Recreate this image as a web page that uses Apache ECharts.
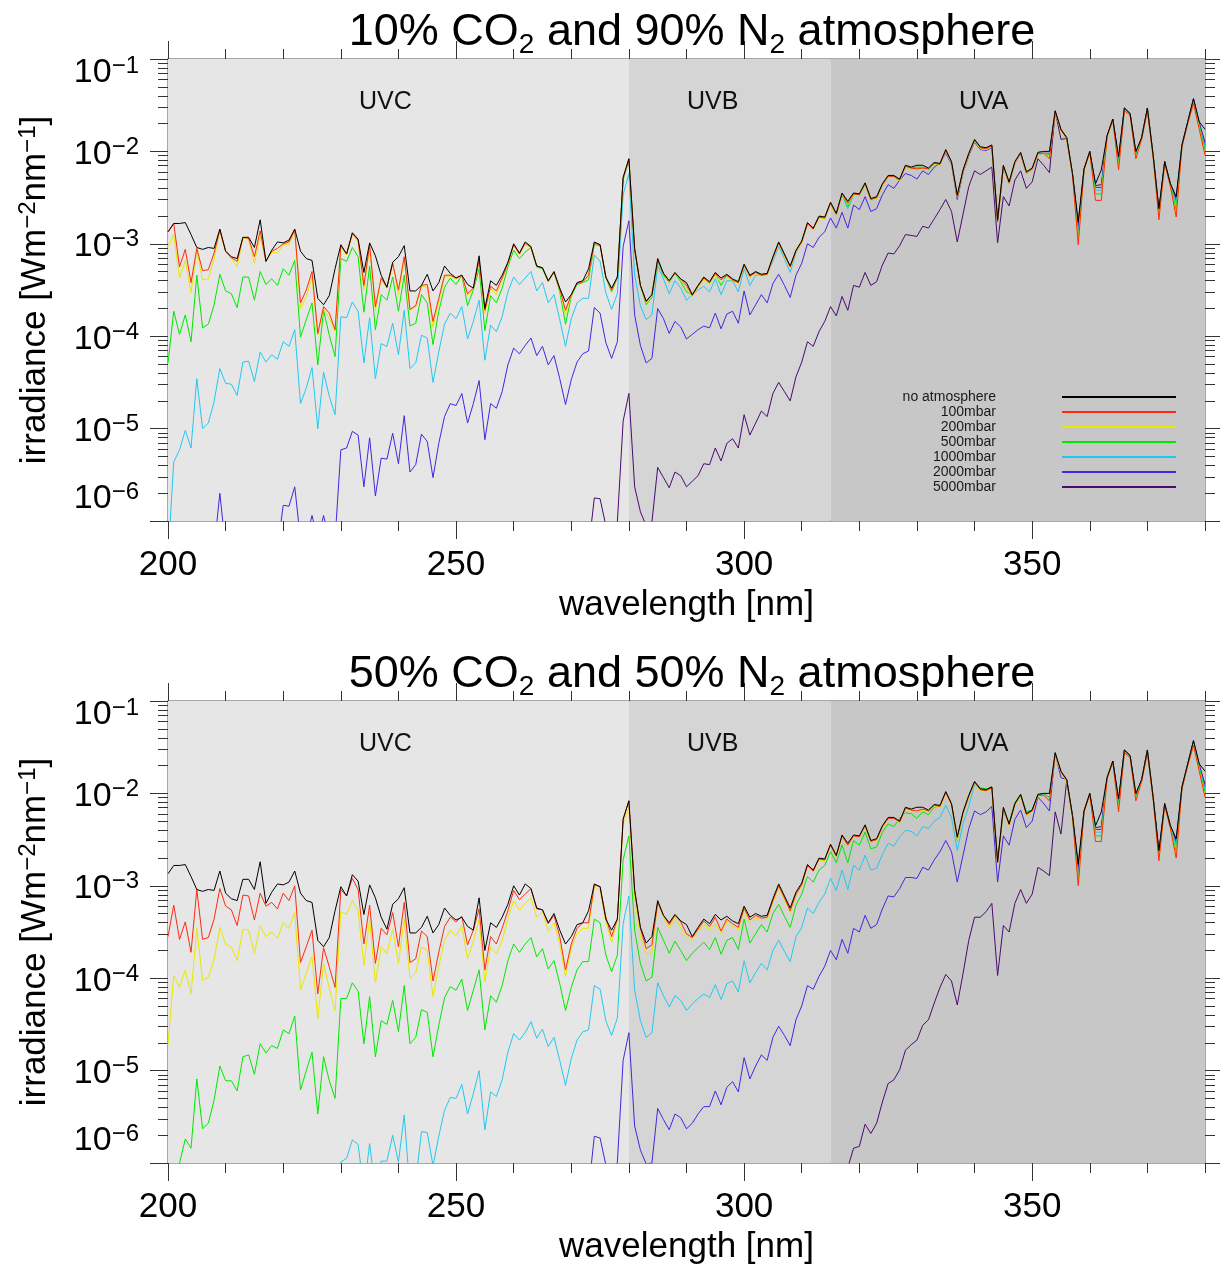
<!DOCTYPE html>
<html><head><meta charset="utf-8">
<script src="https://cdn.jsdelivr.net/npm/echarts@6/dist/echarts.min.js"></script>
<style>html,body{margin:0;padding:0;background:#fff}#c{width:1220px;height:1267px}</style>
</head><body><div id="c"></div>
<script>
const _ = null;
// wavelength grid, 1 nm steps from 200 to 380 nm
const WAVELENGTHS = Array.from({length: 181}, (d, i) => 200 + i);
const SERIES_NAMES = ['no atmosphere','100mbar','200mbar','500mbar','1000mbar','2000mbar','5000mbar'];
const PANEL_TITLES = [['10% CO','2',' and 90% N','2',' atmosphere'], ['50% CO','2',' and 50% N','2',' atmosphere']];
const BANDS = [{name:'UVC', from:200, to:280}, {name:'UVB', from:280, to:315}, {name:'UVA', from:315, to:380}];
const X_MAJOR = [200, 250, 300, 350];
const X_MINOR = [210,220,230,240,260,270,280,290,310,320,330,340,360,370,380];
const Y_DECADES = [-6, -5, -4, -3, -2, -1];  // log10 irradiance tick exponents

// log10 irradiance [W m-2 nm-1]; no-atmosphere (same in both panels)
const TOA = [
-2.87,-2.78,-2.78,-2.77,-2.90,-3.04,-3.06,-3.04,-3.05,-2.84,
-3.08,-3.14,-3.16,-2.93,-2.93,-3.04,-2.74,-3.19,-3.07,-2.98,
-2.99,-2.96,-2.84,-3.08,-3.16,-3.18,-3.59,-3.66,-3.56,-3.27,
-3.01,-3.11,-2.88,-2.95,-3.31,-2.99,-3.13,-3.34,-3.47,-3.20,
-3.14,-3.02,-3.51,-3.51,-3.45,-3.33,-3.51,-3.42,-3.24,-3.32,
-3.37,-3.34,-3.44,-3.48,-3.13,-3.70,-3.40,-3.45,-3.34,-3.20,
-3.00,-3.10,-2.98,-3.03,-3.24,-3.26,-3.40,-3.30,-3.48,-3.63,
-3.55,-3.42,-3.40,-3.27,-2.98,-3.01,-3.36,-3.48,-3.36,-2.28,
-2.08,-3.05,-3.45,-3.62,-3.55,-3.16,-3.32,-3.40,-3.31,-3.38,
-3.42,-3.55,-3.45,-3.36,-3.41,-3.31,-3.37,-3.33,-3.38,-3.41,
-3.22,-3.34,-3.30,-3.33,-3.32,-3.14,-2.98,-3.11,-3.24,-3.07,
-2.97,-2.77,-2.83,-2.70,-2.71,-2.55,-2.67,-2.45,-2.54,-2.45,
-2.46,-2.34,-2.51,-2.49,-2.35,-2.26,-2.26,-2.30,-2.15,-2.17,
-2.15,-2.15,-2.18,-2.12,-2.13,-1.98,-2.11,-2.47,-2.20,-2.02,
-1.87,-1.95,-1.96,-1.93,-2.74,-2.15,-2.33,-2.11,-2.01,-2.22,
-2.18,-2.01,-2.00,-2.00,-1.56,-1.76,-1.85,-2.24,-2.76,-2.19,
-2.00,-2.35,-2.20,-1.83,-1.65,-2.06,-1.53,-1.59,-2.00,-1.85,
-1.53,-2.04,-2.62,-2.11,-2.35,-2.49,-1.93,-1.68,-1.43,-1.68,-1.76];

// ---- panel 1: 10% CO2 / 90% N2 ----
const P1_100 = [
-2.87,-2.78,-3.25,-3.06,-3.42,-3.05,-3.29,-3.28,-3.10,-2.85,
-3.08,-3.15,-3.19,-2.93,-2.94,-3.14,-2.86,-3.19,-3.08,-3.05,
-3.00,-2.98,-2.85,-3.64,-3.50,-3.30,-3.97,-3.68,-3.75,-3.93,
-3.02,-3.11,-2.89,-2.96,-3.45,-3.01,-3.68,-3.37,-3.47,-3.21,
-3.50,-3.14,-3.71,-3.67,-3.45,-3.44,-3.84,-3.59,-3.34,-3.34,
-3.37,-3.34,-3.54,-3.48,-3.18,-3.72,-3.46,-3.51,-3.37,-3.21,
-3.01,-3.11,-2.99,-3.04,-3.24,-3.26,-3.40,-3.31,-3.49,-3.72,
-3.55,-3.43,-3.41,-3.34,-2.99,-3.01,-3.36,-3.50,-3.36,-2.29,
-2.08,-3.06,-3.45,-3.63,-3.55,-3.18,-3.32,-3.40,-3.32,-3.38,
-3.45,-3.56,-3.46,-3.37,-3.42,-3.32,-3.39,-3.34,-3.39,-3.42,
-3.23,-3.35,-3.31,-3.34,-3.33,-3.15,-2.99,-3.12,-3.25,-3.08,
-2.98,-2.78,-2.84,-2.71,-2.72,-2.56,-2.68,-2.46,-2.56,-2.46,
-2.47,-2.35,-2.52,-2.50,-2.36,-2.27,-2.27,-2.31,-2.16,-2.18,
-2.19,-2.18,-2.19,-2.13,-2.14,-1.99,-2.12,-2.49,-2.21,-2.03,
-1.88,-1.96,-1.97,-1.94,-2.75,-2.16,-2.34,-2.12,-2.02,-2.23,
-2.19,-2.02,-2.02,-2.08,-1.57,-1.77,-1.86,-2.25,-3.01,-2.20,
-2.01,-2.53,-2.53,-1.84,-1.66,-2.20,-1.56,-1.61,-2.08,-1.87,
-1.56,-2.06,-2.74,-2.13,-2.38,-2.71,-1.95,-1.70,-1.48,-1.76,-2.04];
const P1_200 = [
-3.03,-2.90,-3.37,-3.18,-3.53,-3.07,-3.39,-3.38,-3.16,-2.86,
-3.09,-3.16,-3.25,-2.94,-2.95,-3.21,-2.92,-3.19,-3.09,-3.10,
-3.01,-3.01,-2.86,-3.70,-3.57,-3.36,-3.99,-3.70,-3.81,-3.95,
-3.04,-3.12,-2.90,-2.98,-3.50,-3.03,-3.72,-3.38,-3.48,-3.22,
-3.55,-3.16,-3.72,-3.68,-3.46,-3.47,-3.90,-3.63,-3.36,-3.35,
-3.38,-3.35,-3.56,-3.49,-3.19,-3.75,-3.48,-3.55,-3.39,-3.22,
-3.02,-3.12,-3.01,-3.04,-3.24,-3.26,-3.40,-3.31,-3.50,-3.77,
-3.56,-3.43,-3.41,-3.35,-2.99,-3.01,-3.36,-3.50,-3.36,-2.29,
-2.08,-3.06,-3.45,-3.64,-3.56,-3.18,-3.32,-3.41,-3.32,-3.39,
-3.49,-3.57,-3.47,-3.39,-3.43,-3.34,-3.42,-3.36,-3.40,-3.43,
-3.24,-3.36,-3.32,-3.35,-3.34,-3.16,-3.00,-3.13,-3.26,-3.09,
-2.99,-2.79,-2.85,-2.72,-2.73,-2.57,-2.69,-2.47,-2.57,-2.47,
-2.48,-2.36,-2.53,-2.51,-2.37,-2.28,-2.28,-2.32,-2.17,-2.19,
-2.19,-2.18,-2.20,-2.14,-2.15,-2.00,-2.13,-2.49,-2.22,-2.04,
-1.89,-1.97,-1.98,-1.95,-2.75,-2.17,-2.35,-2.13,-2.03,-2.24,
-2.20,-2.03,-2.02,-2.06,-1.58,-1.78,-1.87,-2.26,-2.98,-2.21,
-2.02,-2.50,-2.50,-1.85,-1.67,-2.17,-1.55,-1.61,-2.07,-1.87,
-1.55,-2.06,-2.73,-2.13,-2.38,-2.70,-1.95,-1.70,-1.47,-1.75,-2.04];
const P1_500 = [
-4.29,-3.73,-3.98,-3.77,-4.06,-3.34,-3.91,-3.87,-3.66,-3.33,
-3.51,-3.54,-3.69,-3.36,-3.36,-3.61,-3.30,-3.44,-3.38,-3.45,
-3.27,-3.34,-3.18,-4.01,-3.82,-3.64,-4.31,-3.72,-3.99,-4.22,
-3.16,-3.19,-3.04,-3.14,-3.74,-3.24,-3.93,-3.55,-3.61,-3.36,
-3.73,-3.34,-3.89,-3.86,-3.55,-3.64,-4.09,-3.73,-3.47,-3.37,
-3.44,-3.34,-3.67,-3.50,-3.27,-3.94,-3.56,-3.64,-3.48,-3.25,
-3.07,-3.16,-3.09,-3.04,-3.25,-3.27,-3.41,-3.31,-3.52,-3.87,
-3.57,-3.44,-3.42,-3.39,-3.01,-3.02,-3.37,-3.52,-3.37,-2.31,
-2.09,-3.07,-3.45,-3.66,-3.58,-3.19,-3.34,-3.42,-3.32,-3.41,
-3.52,-3.55,-3.46,-3.37,-3.43,-3.32,-3.45,-3.34,-3.40,-3.42,
-3.23,-3.36,-3.31,-3.34,-3.33,-3.15,-2.99,-3.12,-3.25,-3.08,
-2.98,-2.78,-2.84,-2.71,-2.72,-2.56,-2.68,-2.46,-2.60,-2.46,
-2.47,-2.35,-2.52,-2.50,-2.36,-2.27,-2.27,-2.31,-2.16,-2.18,
-2.17,-2.17,-2.19,-2.13,-2.14,-1.99,-2.12,-2.49,-2.21,-2.03,
-1.88,-1.96,-1.97,-1.94,-2.75,-2.16,-2.34,-2.12,-2.02,-2.23,
-2.19,-2.02,-2.02,-2.04,-1.57,-1.77,-1.86,-2.25,-2.96,-2.20,
-2.01,-2.46,-2.46,-1.84,-1.66,-2.14,-1.55,-1.60,-2.05,-1.86,
-1.55,-2.05,-2.69,-2.12,-2.37,-2.63,-1.94,-1.69,-1.46,-1.73,-1.98];
const P1_1000 = [
-6.40,-5.36,-5.23,-5.02,-5.21,-4.46,-5.00,-4.94,-4.71,-4.35,
-4.51,-4.52,-4.64,-4.28,-4.27,-4.49,-4.17,-4.28,-4.20,-4.25,
-4.06,-4.11,-3.93,-4.73,-4.56,-4.34,-5.00,-4.39,-4.65,-4.85,
-3.79,-3.80,-3.63,-3.73,-4.29,-3.80,-4.46,-4.08,-4.11,-3.86,
-4.20,-3.72,-4.35,-4.29,-3.99,-4.02,-4.50,-4.17,-3.87,-3.75,
-3.81,-3.68,-4.03,-3.84,-3.61,-4.26,-3.88,-3.95,-3.79,-3.52,
-3.36,-3.44,-3.37,-3.30,-3.51,-3.42,-3.64,-3.55,-3.82,-4.11,
-3.81,-3.64,-3.59,-3.59,-3.12,-3.19,-3.53,-3.71,-3.54,-2.47,
-2.24,-3.34,-3.67,-3.82,-3.77,-3.24,-3.38,-3.54,-3.40,-3.48,
-3.61,-3.55,-3.50,-3.46,-3.52,-3.38,-3.55,-3.40,-3.40,-3.52,
-3.27,-3.45,-3.34,-3.34,-3.33,-3.19,-3.03,-3.16,-3.31,-3.10,
-2.98,-2.79,-2.84,-2.71,-2.73,-2.57,-2.69,-2.47,-2.62,-2.47,
-2.48,-2.36,-2.53,-2.51,-2.37,-2.28,-2.28,-2.32,-2.17,-2.19,
-2.18,-2.18,-2.20,-2.14,-2.15,-2.00,-2.13,-2.50,-2.22,-2.04,
-1.89,-1.97,-1.98,-1.95,-2.75,-2.17,-2.35,-2.13,-2.03,-2.24,
-2.20,-2.03,-2.02,-2.03,-1.57,-1.77,-1.86,-2.25,-2.93,-2.20,
-2.01,-2.42,-2.42,-1.84,-1.66,-2.12,-1.54,-1.60,-2.04,-1.86,
-1.54,-2.05,-2.67,-2.12,-2.36,-2.56,-1.94,-1.69,-1.45,-1.72,-1.95];
const P1_2000 = [
_,_,_,_,_,_,_,_,-6.30,-5.70,
-6.30,_,_,_,_,_,_,_,_,-6.30,
-5.83,-5.84,-5.63,-6.20,-6.20,-5.94,-6.20,-5.94,-6.20,-6.20,
-5.23,-5.21,-5.03,-5.07,-5.63,-5.10,-5.73,-5.32,-5.33,-5.05,
-5.38,-4.86,-5.47,-5.39,-5.06,-5.14,-5.53,-5.16,-4.87,-4.73,
-4.75,-4.62,-4.94,-4.73,-4.48,-5.12,-4.73,-4.78,-4.60,-4.31,
-4.13,-4.19,-4.10,-4.02,-4.21,-4.11,-4.31,-4.21,-4.46,-4.74,
-4.47,-4.28,-4.19,-4.16,-3.69,-3.75,-4.07,-4.24,-4.06,-3.03,
-2.75,-3.77,-4.10,-4.29,-4.24,-3.70,-3.81,-3.97,-3.84,-3.90,
-4.03,-3.98,-3.93,-3.89,-3.91,-3.75,-3.92,-3.76,-3.73,-3.86,
-3.51,-3.77,-3.66,-3.55,-3.64,-3.43,-3.33,-3.45,-3.58,-3.34,
-3.21,-3.00,-3.04,-2.93,-2.87,-2.72,-2.83,-2.66,-2.83,-2.58,
-2.63,-2.49,-2.65,-2.62,-2.47,-2.36,-2.40,-2.31,-2.24,-2.26,
-2.30,-2.21,-2.25,-2.17,-2.13,-2.02,-2.14,-2.52,-2.23,-2.05,
-1.90,-1.98,-1.99,-1.96,-2.76,-2.17,-2.35,-2.13,-2.03,-2.24,
-2.20,-2.03,-2.02,-2.02,-1.57,-1.77,-1.86,-2.25,-2.87,-2.20,
-2.01,-2.39,-2.39,-1.84,-1.66,-2.10,-1.54,-1.60,-2.03,-1.86,
-1.54,-2.05,-2.65,-2.12,-2.36,-2.54,-1.94,-1.69,-1.44,-1.71,-1.93];
const P1_5000 = [
_,_,_,_,_,_,_,_,_,_,
_,_,_,_,_,_,_,_,_,_,
_,_,_,_,_,_,_,_,_,_,
_,_,_,_,_,_,_,_,_,_,
_,_,_,_,_,_,_,_,_,_,
_,_,_,_,_,_,_,_,_,_,
_,_,_,_,_,_,_,_,_,_,
_,_,_,-6.30,-5.75,-5.76,-6.05,-6.30,-6.01,-4.92,
-4.62,-5.63,-5.90,-6.05,-6.01,-5.42,-5.53,-5.64,-5.47,-5.51,
-5.63,-5.57,-5.51,-5.38,-5.39,-5.21,-5.35,-5.16,-5.11,-5.21,
-4.85,-5.07,-4.94,-4.81,-4.87,-4.62,-4.50,-4.60,-4.70,-4.44,
-4.28,-4.06,-4.11,-3.95,-3.84,-3.68,-3.78,-3.57,-3.72,-3.45,
-3.47,-3.31,-3.45,-3.41,-3.23,-3.10,-3.11,-3.02,-2.90,-2.91,
-2.92,-2.81,-2.83,-2.73,-2.63,-2.52,-2.65,-2.98,-2.68,-2.38,
-2.21,-2.25,-2.21,-2.17,-2.99,-2.49,-2.59,-2.31,-2.21,-2.40,
-2.33,-2.08,-2.15,-2.23,-1.57,-1.87,-1.86,-2.24,-2.80,-2.19,
-2.00,-2.37,-2.36,-1.83,-1.65,-2.08,-1.53,-1.59,-2.02,-1.85,
-1.53,-2.04,-2.63,-2.11,-2.35,-2.51,-1.93,-1.68,-1.43,-1.69,-1.90];

// ---- panel 2: 50% CO2 / 50% N2 ----
const P2_100 = [
-3.55,-3.21,-3.58,-3.39,-3.72,-3.04,-3.58,-3.56,-3.36,-3.03,
-3.22,-3.26,-3.43,-3.10,-3.11,-3.37,-3.08,-3.22,-3.18,-3.25,
-3.08,-3.16,-3.00,-3.83,-3.66,-3.48,-4.17,-3.67,-3.88,-4.10,
-3.04,-3.11,-2.92,-3.04,-3.63,-3.21,-3.84,-3.46,-3.53,-3.29,
-3.66,-3.18,-3.83,-3.79,-3.49,-3.55,-4.03,-3.72,-3.44,-3.34,
-3.39,-3.33,-3.64,-3.48,-3.25,-3.91,-3.55,-3.63,-3.46,-3.27,
-3.05,-3.15,-3.09,-3.03,-3.25,-3.26,-3.41,-3.32,-3.55,-3.91,
-3.63,-3.46,-3.40,-3.40,-2.99,-3.01,-3.34,-3.55,-3.36,-2.28,
-2.08,-3.05,-3.46,-3.68,-3.64,-3.18,-3.32,-3.42,-3.32,-3.39,
-3.52,-3.56,-3.47,-3.38,-3.44,-3.34,-3.49,-3.36,-3.41,-3.45,
-3.24,-3.37,-3.32,-3.35,-3.34,-3.16,-3.00,-3.13,-3.27,-3.09,
-2.99,-2.78,-2.84,-2.71,-2.72,-2.56,-2.68,-2.46,-2.56,-2.46,
-2.47,-2.35,-2.52,-2.50,-2.36,-2.27,-2.27,-2.31,-2.16,-2.18,
-2.19,-2.17,-2.19,-2.13,-2.14,-1.99,-2.12,-2.48,-2.21,-2.03,
-1.88,-1.96,-1.97,-1.94,-2.75,-2.16,-2.34,-2.12,-2.02,-2.23,
-2.19,-2.02,-2.02,-2.08,-1.57,-1.77,-1.86,-2.25,-3.00,-2.20,
-2.01,-2.52,-2.52,-1.84,-1.66,-2.20,-1.56,-1.61,-2.08,-1.87,
-1.56,-2.06,-2.73,-2.13,-2.38,-2.70,-1.95,-1.70,-1.48,-1.76,-2.04];
const P2_200 = [
-4.72,-3.97,-4.10,-3.91,-4.17,-3.46,-4.02,-3.99,-3.80,-3.45,
-3.63,-3.66,-3.81,-3.47,-3.48,-3.73,-3.43,-3.55,-3.50,-3.57,
-3.40,-3.46,-3.29,-4.12,-3.95,-3.76,-4.44,-3.84,-4.11,-4.35,
-3.28,-3.31,-3.16,-3.27,-3.86,-3.36,-4.05,-3.66,-3.73,-3.47,
-3.84,-3.36,-4.00,-3.94,-3.66,-3.70,-4.20,-3.87,-3.59,-3.48,
-3.54,-3.43,-3.79,-3.60,-3.37,-4.04,-3.66,-3.74,-3.59,-3.36,
-3.16,-3.26,-3.19,-3.13,-3.34,-3.28,-3.49,-3.40,-3.63,-3.98,
-3.67,-3.52,-3.46,-3.46,-3.01,-3.05,-3.39,-3.61,-3.37,-2.33,
-2.15,-3.12,-3.56,-3.74,-3.72,-3.18,-3.34,-3.46,-3.34,-3.45,
-3.56,-3.57,-3.50,-3.41,-3.47,-3.42,-3.51,-3.39,-3.44,-3.47,
-3.26,-3.41,-3.35,-3.37,-3.36,-3.18,-3.02,-3.15,-3.29,-3.11,
-3.00,-2.79,-2.85,-2.72,-2.73,-2.57,-2.69,-2.47,-2.57,-2.47,
-2.48,-2.36,-2.53,-2.51,-2.37,-2.28,-2.28,-2.32,-2.17,-2.19,
-2.20,-2.18,-2.20,-2.14,-2.15,-2.00,-2.13,-2.50,-2.22,-2.04,
-1.89,-1.97,-1.98,-1.95,-2.75,-2.17,-2.35,-2.13,-2.03,-2.24,
-2.20,-2.03,-2.02,-2.06,-1.58,-1.78,-1.87,-2.26,-2.98,-2.21,
-2.02,-2.50,-2.50,-1.85,-1.67,-2.17,-1.55,-1.61,-2.07,-1.87,
-1.55,-2.06,-2.72,-2.13,-2.38,-2.69,-1.95,-1.70,-1.47,-1.75,-2.04];
const P2_500 = [
-6.40,-6.30,-6.00,-5.74,-5.84,-5.09,-5.63,-5.57,-5.32,-4.95,
-5.11,-5.11,-5.22,-4.85,-4.83,-5.04,-4.71,-4.81,-4.73,-4.76,
-4.56,-4.60,-4.41,-5.21,-5.00,-4.80,-5.47,-4.85,-5.11,-5.30,
-4.22,-4.22,-4.05,-4.14,-4.71,-4.20,-4.85,-4.46,-4.50,-4.24,
-4.58,-4.08,-4.71,-4.64,-4.34,-4.37,-4.85,-4.51,-4.21,-4.09,
-4.13,-4.01,-4.35,-4.13,-3.91,-4.56,-4.19,-4.26,-4.08,-3.81,
-3.63,-3.72,-3.63,-3.56,-3.77,-3.68,-3.90,-3.81,-4.06,-4.35,
-4.10,-3.91,-3.82,-3.82,-3.36,-3.40,-3.75,-3.93,-3.75,-2.72,
-2.46,-3.48,-3.84,-4.03,-3.99,-3.45,-3.59,-3.73,-3.60,-3.70,
-3.81,-3.73,-3.67,-3.61,-3.69,-3.56,-3.74,-3.59,-3.56,-3.69,
-3.36,-3.62,-3.52,-3.42,-3.50,-3.30,-3.20,-3.33,-3.45,-3.21,
-3.09,-2.90,-2.96,-2.83,-2.78,-2.63,-2.75,-2.56,-2.75,-2.51,
-2.56,-2.42,-2.60,-2.58,-2.42,-2.33,-2.36,-2.27,-2.21,-2.22,
-2.27,-2.20,-2.23,-2.15,-2.13,-1.99,-2.12,-2.51,-2.22,-2.04,
-1.88,-1.94,-1.95,-1.93,-2.74,-2.18,-2.32,-2.10,-2.01,-2.20,
-2.18,-2.01,-2.00,-2.05,-1.57,-1.77,-1.86,-2.25,-2.96,-2.20,
-2.01,-2.46,-2.46,-1.84,-1.66,-2.14,-1.55,-1.60,-2.05,-1.86,
-1.55,-2.05,-2.69,-2.12,-2.37,-2.63,-1.94,-1.69,-1.46,-1.73,-1.98];
const P2_1000 = [
_,_,_,_,_,_,_,_,_,_,
_,_,_,_,_,_,_,_,_,_,
_,_,_,_,_,_,_,_,_,-6.40,
-5.99,-5.95,-5.75,-5.80,-6.30,-5.79,-6.30,-5.98,-5.98,-5.70,
-5.99,-5.48,-6.30,-6.20,-5.66,-5.67,-6.03,-5.71,-5.43,-5.29,
-5.30,-5.15,-5.47,-5.25,-5.00,-5.64,-5.23,-5.28,-5.10,-4.80,
-4.60,-4.67,-4.59,-4.47,-4.65,-4.55,-4.74,-4.64,-4.89,-5.16,
-4.87,-4.67,-4.58,-4.56,-4.08,-4.12,-4.46,-4.62,-4.43,-3.41,
-3.11,-4.13,-4.46,-4.64,-4.59,-4.05,-4.19,-4.31,-4.19,-4.24,
-4.35,-4.28,-4.22,-4.17,-4.21,-4.07,-4.23,-4.06,-4.03,-4.15,
-3.81,-4.05,-3.94,-3.84,-3.91,-3.70,-3.59,-3.71,-3.82,-3.55,
-3.45,-3.24,-3.30,-3.18,-3.09,-2.92,-3.05,-2.83,-3.04,-2.78,
-2.83,-2.67,-2.83,-2.81,-2.66,-2.54,-2.57,-2.47,-2.40,-2.41,
-2.46,-2.36,-2.38,-2.30,-2.26,-2.13,-2.26,-2.62,-2.33,-2.14,
-1.90,-1.96,-1.97,-1.93,-2.72,-2.20,-2.33,-2.11,-2.01,-2.20,
-2.18,-2.02,-2.01,-2.04,-1.56,-1.77,-1.86,-2.25,-2.93,-2.20,
-2.01,-2.42,-2.42,-1.84,-1.66,-2.12,-1.54,-1.60,-2.04,-1.86,
-1.54,-2.05,-2.67,-2.12,-2.36,-2.56,-1.94,-1.69,-1.45,-1.72,-1.95];
const P2_2000 = [
_,_,_,_,_,_,_,_,_,_,
_,_,_,_,_,_,_,_,_,_,
_,_,_,_,_,_,_,_,_,_,
_,_,_,_,_,_,_,_,_,_,
_,_,_,_,_,_,_,_,_,_,
_,_,_,_,_,_,_,_,_,_,
_,_,_,_,_,_,_,_,_,_,
_,_,_,-6.30,-5.71,-5.73,-6.02,-6.20,-5.99,-4.89,
-4.59,-5.60,-5.86,-6.01,-6.00,-5.41,-5.53,-5.64,-5.47,-5.51,
-5.63,-5.57,-5.47,-5.39,-5.39,-5.22,-5.37,-5.18,-5.12,-5.23,
-4.86,-5.09,-4.95,-4.83,-4.89,-4.64,-4.52,-4.62,-4.73,-4.45,
-4.30,-4.08,-4.12,-3.98,-3.87,-3.70,-3.80,-3.58,-3.73,-3.46,
-3.50,-3.32,-3.46,-3.42,-3.25,-3.11,-3.12,-3.03,-2.91,-2.91,
-2.92,-2.80,-2.83,-2.72,-2.63,-2.51,-2.63,-2.96,-2.67,-2.38,
-2.19,-2.23,-2.20,-2.14,-2.96,-2.46,-2.56,-2.28,-2.18,-2.37,
-2.30,-2.04,-2.11,-2.19,-1.56,-1.83,-1.85,-2.25,-2.87,-2.20,
-2.01,-2.39,-2.39,-1.84,-1.66,-2.10,-1.54,-1.60,-2.03,-1.86,
-1.54,-2.05,-2.65,-2.12,-2.36,-2.54,-1.94,-1.69,-1.44,-1.71,-1.93];
const P2_5000 = [
_,_,_,_,_,_,_,_,_,_,
_,_,_,_,_,_,_,_,_,_,
_,_,_,_,_,_,_,_,_,_,
_,_,_,_,_,_,_,_,_,_,
_,_,_,_,_,_,_,_,_,_,
_,_,_,_,_,_,_,_,_,_,
_,_,_,_,_,_,_,_,_,_,
_,_,_,_,_,_,_,_,_,_,
_,_,_,_,_,_,_,_,_,_,
_,_,_,_,_,_,_,_,_,_,
_,_,_,_,_,_,_,_,_,_,
_,_,_,_,_,_,_,-6.40,-6.05,-5.84,
-5.82,-5.58,-5.68,-5.57,-5.34,-5.14,-5.10,-4.99,-4.78,-4.72,
-4.67,-4.51,-4.45,-4.27,-4.10,-3.96,-4.03,-4.29,-3.95,-3.59,
-3.34,-3.34,-3.28,-3.19,-3.97,-3.43,-3.50,-3.19,-3.04,-3.19,
-3.09,-2.80,-2.84,-2.89,-2.20,-2.44,-1.86,-2.24,-2.80,-2.19,
-2.00,-2.37,-2.36,-1.83,-1.65,-2.08,-1.53,-1.59,-2.02,-1.85,
-1.53,-2.04,-2.63,-2.11,-2.35,-2.51,-1.93,-1.68,-1.43,-1.69,-1.90];

const PANELS = [
  [TOA, P1_100, P1_200, P1_500, P1_1000, P1_2000, P1_5000],
  [TOA, P2_100, P2_200, P2_500, P2_1000, P2_2000, P2_5000]
];

// ---------- styling ----------
const FONT = '"Liberation Sans", Arial, Helvetica, sans-serif';
const COLORS = ['#000000', '#ff2a10', '#e8e800', '#00e800', '#22c8f0', '#4b22e0', '#4a0a70'];
const BAND_COLORS = ['#e6e6e6', '#d5d5d5', '#c7c7c7'];
const BAND_LABEL_DX = [-13, -17, -34];
const GRID_TOPS = [59, 701];
const AXIS_COLOR = '#8a8a8a', TICK_COLOR = '#333';

const Y_MINOR = [];
for (let n = -6; n < -1; n++) for (let k = 2; k <= 9; k++) Y_MINOR.push(n + Math.log10(k));

function yLabel(v) {
  const e = Math.round(v);
  const sup = '\u2212' + Math.abs(e);
  if (e === -1) return '{bt|10}{st|' + sup + '}';
  if (e === -6) return '{bb|10}{sb|' + sup + '}';
  return '{b|10}{s|' + sup + '}';
}
const base = {fontFamily: FONT, color: '#000', verticalAlign: 'top', fontWeight: 'normal'};
const yRich = {
  b:  Object.assign({}, base, {fontSize: 34, lineHeight: 34, padding: [3, 0, 0, 0]}),
  s:  Object.assign({}, base, {fontSize: 24, lineHeight: 24, padding: [1, 0, 0, 0]}),
  bt: Object.assign({}, base, {fontSize: 34, lineHeight: 34, padding: [14, 0, 0, 0]}),
  st: Object.assign({}, base, {fontSize: 24, lineHeight: 24, padding: [12, 0, 0, 0]}),
  bb: Object.assign({}, base, {fontSize: 34, lineHeight: 84, padding: [3, 0, 0, 0]}),
  sb: Object.assign({}, base, {fontSize: 24, lineHeight: 84, padding: [1, 0, 0, 0]})
};
const nameRich = {
  n: Object.assign({}, base, {fontSize: 35, lineHeight: 35, padding: [3, 0, 0, 0]}),
  s: Object.assign({}, base, {fontSize: 24, lineHeight: 24, padding: [1, 0, 0, 0]})
};

const grids = [], xAxes = [], yAxes = [], titles = [], series = [];
GRID_TOPS.forEach((top, g) => {
  grids.push({left: 168, top: top, width: 1037, height: 462});
  const xBase = {gridIndex: g, type: 'value', min: 200, max: 380, splitLine: {show: false}};
  const yBase = {gridIndex: g, type: 'value', min: -6, max: -1, splitLine: {show: false}};
  // x axes: bottom major (labels), bottom minor, top major, top minor
  xAxes.push(Object.assign({}, xBase, {position: 'bottom',
    axisLine: {show: true, onZero: false, lineStyle: {color: AXIS_COLOR, width: 1.5}},
    axisTick: {show: true, inside: false, length: 18, customValues: X_MAJOR, lineStyle: {color: TICK_COLOR}},
    axisLabel: {show: true, customValues: X_MAJOR, fontSize: 35, fontFamily: FONT, color: '#000', margin: 27},
    name: 'wavelength [nm]', nameLocation: 'middle', nameGap: 67,
    nameTextStyle: {fontSize: 35, fontFamily: FONT, color: '#000'}}));
  xAxes.push(Object.assign({}, xBase, {position: 'bottom',
    axisLine: {show: false, onZero: false},
    axisTick: {show: true, inside: false, length: 10, customValues: X_MINOR, lineStyle: {color: TICK_COLOR}},
    axisLabel: {show: false}}));
  xAxes.push(Object.assign({}, xBase, {position: 'top',
    axisLine: {show: true, onZero: false, lineStyle: {color: AXIS_COLOR, width: 1.5}},
    axisTick: {show: true, inside: false, length: 18, customValues: X_MAJOR, lineStyle: {color: TICK_COLOR}},
    axisLabel: {show: false}}));
  xAxes.push(Object.assign({}, xBase, {position: 'top',
    axisLine: {show: false, onZero: false},
    axisTick: {show: true, inside: false, length: 10, customValues: X_MINOR, lineStyle: {color: TICK_COLOR}},
    axisLabel: {show: false}}));
  // y axes: left major (labels), left minor, right major, right minor
  yAxes.push(Object.assign({}, yBase, {position: 'left', interval: 1,
    axisLine: {show: true, onZero: false, lineStyle: {color: AXIS_COLOR, width: 1.5}},
    axisTick: {show: true, inside: false, length: 18, lineStyle: {color: TICK_COLOR}},
    axisLabel: {show: true, margin: 29, formatter: yLabel, rich: yRich},
    name: '{n|irradiance [Wm}{s|\u22122}{n|nm}{s|\u22121}{n|]}', nameLocation: 'middle', nameGap: 118,
    nameRotate: 90, nameTextStyle: {rich: nameRich, fontSize: 35, fontFamily: FONT}}));
  yAxes.push(Object.assign({}, yBase, {position: 'left',
    axisLine: {show: false, onZero: false},
    axisTick: {show: true, inside: false, length: 10, customValues: Y_MINOR, lineStyle: {color: TICK_COLOR}},
    axisLabel: {show: false}}));
  yAxes.push(Object.assign({}, yBase, {position: 'right', interval: 1,
    axisLine: {show: true, onZero: false, lineStyle: {color: AXIS_COLOR, width: 1.5}},
    axisTick: {show: true, inside: false, length: 18, lineStyle: {color: TICK_COLOR}},
    axisLabel: {show: false}}));
  yAxes.push(Object.assign({}, yBase, {position: 'right',
    axisLine: {show: false, onZero: false},
    axisTick: {show: true, inside: false, length: 10, customValues: Y_MINOR, lineStyle: {color: TICK_COLOR}},
    axisLabel: {show: false}}));

  const tt = PANEL_TITLES[g];
  titles.push({
    text: '{t|' + tt[0] + '}{s|' + tt[1] + '}{t|' + tt[2] + '}{s|' + tt[3] + '}{t|' + tt[4] + '}',
    left: 687, top: top - 54, textAlign: 'center',
    textStyle: {fontWeight: 'normal', rich: {
      t: Object.assign({}, base, {fontSize: 45, lineHeight: 45}),
      s: Object.assign({}, base, {fontSize: 28, lineHeight: 28, padding: [21, 0, 0, 0]})
    }}
  });

  // spectral band shading
  series.push({
    type: 'line', xAxisIndex: g * 4, yAxisIndex: g * 4, data: [], silent: true,
    markArea: {silent: true, data: BANDS.map((b, i) => [
      {name: b.name, xAxis: b.from, itemStyle: {color: BAND_COLORS[i]},
       label: {show: true, position: 'insideTop', distance: 5, offset: [BAND_LABEL_DX[i], 26],
               fontSize: 25, fontFamily: FONT, color: '#111'}},
      {xAxis: b.to}])}
  });
  // spectra: draw attenuated first, no-atmosphere on top
  for (let s = SERIES_NAMES.length - 1; s >= 0; s--) {
    const vals = PANELS[g][s];
    series.push({
      name: SERIES_NAMES[s], type: 'line', xAxisIndex: g * 4, yAxisIndex: g * 4,
      symbol: 'none', clip: true, silent: true,
      lineStyle: {width: 1, color: COLORS[s]}, itemStyle: {color: COLORS[s]},
      data: WAVELENGTHS.map((w, i) => [w, vals[i]])
    });
  }
});

const chart = echarts.init(document.getElementById('c'), null, {renderer: 'canvas'});
chart.setOption({
  backgroundColor: '#ffffff',
  animation: false,
  title: titles,
  grid: grids,
  xAxis: xAxes,
  yAxis: yAxes,
  legend: {
    data: SERIES_NAMES.map((n, i) => ({name: n, itemStyle: {color: COLORS[i], opacity: 1}})),
    orient: 'vertical', right: 44, top: 390, padding: 0,
    align: 'right', itemWidth: 114, itemHeight: 14, itemGap: 1, selectedMode: false,
    icon: 'path://M0 0H114V2H0Z',
    textStyle: {fontSize: 14, fontFamily: FONT, color: '#1a1a1a', padding: [0, 61, 0, 0]}
  },
  series: series
});
</script>
</body></html>
